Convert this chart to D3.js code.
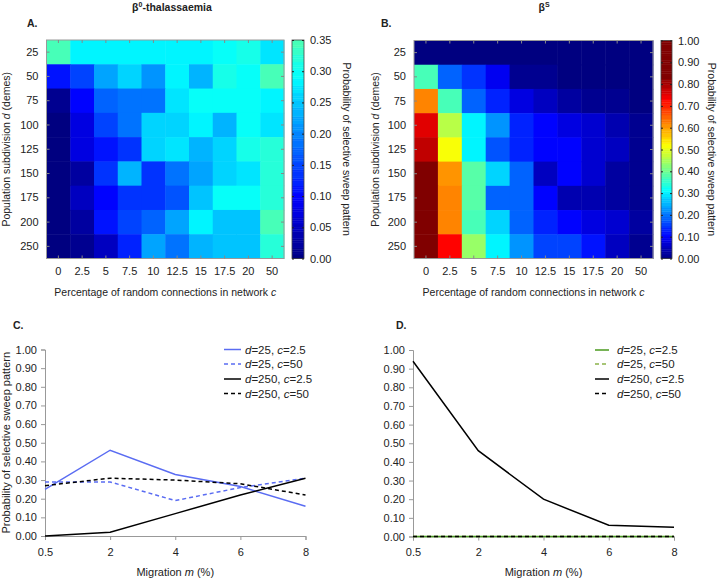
<!DOCTYPE html>
<html><head><meta charset="utf-8">
<script src="https://cdn.jsdelivr.net/npm/d3@7"></script>
<style>
body{margin:0;background:#fff;}
text{font-family:"Liberation Sans",Arial,sans-serif;fill:#222;}
</style></head>
<body><svg id="c" width="721" height="578"></svg>
<script>
const cCats = ["0","2.5","5","7.5","10","12.5","15","17.5","20","50"];
const dCats = ["25","50","75","100","125","150","175","200","250"];
// beta0-thalassaemia: rows = d, cols = c
const thalValues = [
 [0.34,0.29,0.28,0.28,0.29,0.28,0.28,0.30,0.31,0.27],
 [0.11,0.15,0.22,0.26,0.21,0.28,0.23,0.31,0.30,0.35],
 [0.01,0.10,0.17,0.19,0.19,0.27,0.30,0.30,0.30,0.29],
 [0.00,0.07,0.15,0.19,0.26,0.26,0.28,0.24,0.30,0.27],
 [0.00,0.07,0.11,0.13,0.26,0.27,0.24,0.26,0.31,0.32],
 [0.00,0.03,0.13,0.23,0.13,0.18,0.22,0.26,0.27,0.32],
 [0.00,0.05,0.10,0.13,0.14,0.16,0.25,0.30,0.30,0.32],
 [0.00,0.03,0.11,0.15,0.17,0.22,0.29,0.25,0.25,0.35],
 [0.00,0.01,0.05,0.12,0.22,0.19,0.23,0.25,0.25,0.32]
];
// betaS
const sickleValues = [
 [0.00,0.00,0.00,0.00,0.00,0.00,0.00,0.00,0.00,0.00],
 [0.37,0.19,0.14,0.09,0.01,0.01,0.00,0.00,0.00,0.00],
 [0.62,0.37,0.19,0.13,0.08,0.05,0.02,0.01,0.01,0.00],
 [0.75,0.46,0.31,0.22,0.13,0.11,0.08,0.07,0.04,0.01],
 [0.78,0.52,0.31,0.17,0.13,0.11,0.11,0.07,0.05,0.01],
 [0.85,0.61,0.39,0.28,0.19,0.05,0.10,0.06,0.03,0.01],
 [0.86,0.62,0.39,0.19,0.18,0.11,0.04,0.04,0.03,0.01],
 [0.86,0.62,0.37,0.28,0.18,0.13,0.10,0.08,0.07,0.02],
 [0.88,0.73,0.44,0.31,0.22,0.16,0.16,0.12,0.05,0.01]
];
const thalTicks = ["0.00","0.05","0.10","0.15","0.20","0.25","0.30","0.35"];
const sickleTicks = ["0.00","0.10","0.20","0.30","0.40","0.50","0.60","0.70","0.80","0.90","1.00"];
const migration = ["0.5","2","4","6","8"];
const probTicks = ["0.00","0.10","0.20","0.30","0.40","0.50","0.60","0.70","0.80","0.90","1.00"];
const seriesNames = ["d=25, c=2.5","d=25, c=50","d=250, c=2.5","d=250, c=50"];
const thalLines = [
 [0.25,0.46,0.33,0.265,0.16],
 [0.29,0.29,0.19,0.26,0.31],
 [0.00,0.02,0.12,0.22,0.31],
 [0.27,0.31,0.30,0.28,0.22]
];
const sickleLines = [
 [0,0,0,0,0],
 [0,0,0,0,0],
 [0.94,0.46,0.20,0.06,0.05],
 [0,0,0,0,0]
];
const thalStyles = [{c:"#5a6cf2",dash:null},{c:"#5a6cf2",dash:"4,3"},{c:"#000",dash:null},{c:"#000",dash:"4,3"}];
const sickleStyles = [{c:"#4a9a1e",dash:null},{c:"#8bb34a",dash:"4,3"},{c:"#000",dash:null},{c:"#000",dash:"4,3"}];

const svg = d3.select("#c");
function clamp01(x){return Math.max(0,Math.min(1,x));}
function jet(t){
  t = Math.round(clamp01(t)*63)/63;
  const r=clamp01(1.5-Math.abs(4*t-3)), g=clamp01(1.5-Math.abs(4*t-2)), b=clamp01(1.5-Math.abs(4*t-1));
  return d3.rgb(r*255,g*255,b*255).toString();
}
const colorThal = d3.scaleSequential(jet).domain([0,0.35/0.45]).clamp(true);
const colorSickle = d3.scaleSequential(jet).domain([0,1/1.2]).clamp(true);

function heatmap(o){
  const color = o.color;
  const g = svg.append("g");
  const x = d3.scaleBand().domain(cCats).range([o.x0,o.x1]);
  const y = d3.scaleBand().domain(dCats).range([o.y0,o.y1]);
  o.values.forEach((row,i)=>row.forEach((v,j)=>{
    g.append("rect").attr("x",x(cCats[j])).attr("y",y(dCats[i]))
     .attr("width",x.bandwidth()+0.5).attr("height",y.bandwidth()+0.5)
     .attr("fill",color(v));
  }));
  g.append("rect").attr("x",o.x0).attr("y",o.y0).attr("width",o.x1-o.x0).attr("height",o.y1-o.y0)
   .attr("fill","none").attr("stroke","#999").attr("stroke-width",1);
  const ax = g.append("g").attr("transform",`translate(0,${o.y1})`)
    .call(d3.axisBottom(x).tickSize(-3).tickPadding(9));
  const axTop = g.append("g").attr("transform",`translate(0,${o.y0})`)
    .call(d3.axisTop(x).tickSize(-3).tickFormat(""));
  const ay = g.append("g").attr("transform",`translate(${o.x0},0)`)
    .call(d3.axisLeft(y).tickSize(-3).tickPadding(8));
  const ayR = g.append("g").attr("transform",`translate(${o.x1},0)`)
    .call(d3.axisRight(y).tickSize(-3).tickFormat(""));
  [ax,axTop,ay,ayR].forEach(a=>{a.select(".domain").remove();a.selectAll("line").attr("stroke","#888");
    a.selectAll("text").attr("font-size",11).attr("fill","#222").attr("font-family","Liberation Sans, Arial");});
  const cy = d3.scaleLinear().domain([0,o.cmax]).range([o.y1,o.y0]);
  const n=120;
  d3.range(n).forEach(k=>{
    const v0=o.cmax*k/n, v1=o.cmax*(k+1)/n;
    g.append("rect").attr("x",o.cb0).attr("y",cy(v1)).attr("width",o.cb1-o.cb0).attr("height",cy(v0)-cy(v1)+0.4)
     .attr("fill",color((v0+v1)/2));
  });
  g.append("rect").attr("x",o.cb0).attr("y",o.y0).attr("width",o.cb1-o.cb0).attr("height",o.y1-o.y0)
   .attr("fill","none").attr("stroke","#444").attr("stroke-width",0.8);
  const cax = g.append("g").attr("transform",`translate(${o.cb1},0)`)
    .call(d3.axisRight(cy).tickValues(o.ticks.map(Number)).tickFormat((d,i)=>o.ticks[i]).tickSize(-2).tickPadding(6));
  cax.select(".domain").remove();
  cax.selectAll("line").attr("stroke","#222");
  cax.selectAll("text").attr("font-size",11).attr("fill","#222").attr("font-family","Liberation Sans, Arial");
  const cax2 = g.append("g").attr("transform",`translate(${o.cb0},0)`)
    .call(d3.axisLeft(cy).tickValues(o.ticks.map(Number)).tickFormat("").tickSize(-2));
  cax2.select(".domain").remove(); cax2.selectAll("line").attr("stroke","#222");
  g.append("text").attr("x",(o.x0+o.x1)/2).attr("y",296).attr("text-anchor","middle").attr("font-size",10.5)
   .html('Percentage of random connections in network <tspan font-style="italic">c</tspan>');
  g.append("text").attr("transform",`translate(${o.ylx},${(o.y0+o.y1)/2}) rotate(-90)`).attr("text-anchor","middle")
   .attr("dy","0.35em").attr("font-size",10.5)
   .html('Population subdivision <tspan font-style="italic">d</tspan> (demes)');
  g.append("text").attr("transform",`translate(${o.clx},${(o.y0+o.y1)/2}) rotate(90)`).attr("text-anchor","middle")
   .attr("dy","0.35em").attr("font-size",10.5).text("Probability of selective sweep pattern");
  g.append("text").attr("x",o.lx).attr("y",27).attr("font-size",10.5).attr("font-weight","bold").text(o.letter);
}

heatmap({values:thalValues,color:colorThal,x0:46.5,x1:284,y0:40,y1:258.5,cb0:292,cb1:304,cmax:0.35,ticks:thalTicks,ylx:6,clx:347,lx:27,letter:"A."});
heatmap({values:sickleValues,color:colorSickle,x0:414,x1:653,y0:40.5,y1:258.5,cb0:661,cb1:672,cmax:1.0,ticks:sickleTicks,ylx:375,clx:712,lx:381,letter:"B."});

svg.append("text").attr("x",172).attr("y",11).attr("text-anchor","middle").attr("font-size",10.5).attr("font-weight","bold")
  .html('β<tspan font-size="7" dy="-4">0</tspan><tspan dy="4">-thalassaemia</tspan>');
svg.append("text").attr("x",544).attr("y",11).attr("text-anchor","middle").attr("font-size",10.5).attr("font-weight","bold")
  .html('β<tspan font-size="7" dy="-4">S</tspan>');

function linechart(o){
  const g = svg.append("g");
  const x = d3.scalePoint().domain(migration).range([o.x0,o.x1]);
  const y = d3.scaleLinear().domain([0,1]).range([o.y0,o.y1]);
  const ax = g.append("g").attr("transform",`translate(0,${o.y0})`).call(d3.axisBottom(x).tickSize(4).tickPadding(8));
  const ay = g.append("g").attr("transform",`translate(${o.x0},0)`)
    .call(d3.axisLeft(y).tickValues(probTicks.map(Number)).tickFormat((d,i)=>probTicks[i]).tickSize(4).tickPadding(4));
  [ax,ay].forEach(a=>{a.select(".domain").attr("stroke","#999");a.selectAll("line").attr("stroke","#999");
    a.selectAll("text").attr("font-size",11).attr("fill","#222").attr("font-family","Liberation Sans, Arial");});
  const line = d3.line().x((d,i)=>x(migration[i])).y(d=>y(d));
  o.order.forEach(k=>{
    g.append("path").attr("d",line(o.data[k])).attr("fill","none").attr("stroke",o.styles[k].c)
     .attr("stroke-width",1.5).attr("stroke-dasharray",o.styles[k].dash);
  });
  o.data.forEach((s,k)=>{
    const ly=o.ly[k];
    g.append("line").attr("x1",o.lx0).attr("x2",o.lx1).attr("y1",ly).attr("y2",ly).attr("stroke",o.styles[k].c)
     .attr("stroke-width",1.5).attr("stroke-dasharray",o.styles[k].dash);
    const parts = seriesNames[k].split(", ");
    g.append("text").attr("x",o.ltx).attr("y",ly).attr("dy","0.35em").attr("font-size",11.5)
     .html(`<tspan font-style="italic">d</tspan>${parts[0].slice(1)}, <tspan font-style="italic">c</tspan>${parts[1].slice(1)}`);
  });
  g.append("text").attr("x",(o.x0+o.x1)/2).attr("y",o.xty).attr("text-anchor","middle").attr("font-size",11)
   .html('Migration <tspan font-style="italic">m</tspan> (%)');
  if(o.ytitle){
    g.append("text").attr("transform",`translate(6,${(o.y0+o.y1)/2}) rotate(-90)`).attr("text-anchor","middle")
     .attr("dy","0.35em").attr("font-size",11).text("Probability of selective sweep pattern");
  }
  g.append("text").attr("x",o.lx).attr("y",329).attr("font-size",10.5).attr("font-weight","bold").text(o.letter);
}
linechart({data:thalLines,styles:thalStyles,x0:45,x1:305.5,y0:536,y1:349.5,order:[0,1,2,3],
  lx0:224,lx1:241,ltx:245,ly:[349.5,364,379,393.5],xty:576,ytitle:true,lx:13,letter:"C."});
linechart({data:sickleLines,styles:sickleStyles,x0:413,x1:674,y0:536.5,y1:350,order:[0,1,2,3],
  lx0:595,lx1:609,ltx:617,ly:[350,364,379,393.5],xty:576,ytitle:false,lx:396,letter:"D."});
</script></body></html>
